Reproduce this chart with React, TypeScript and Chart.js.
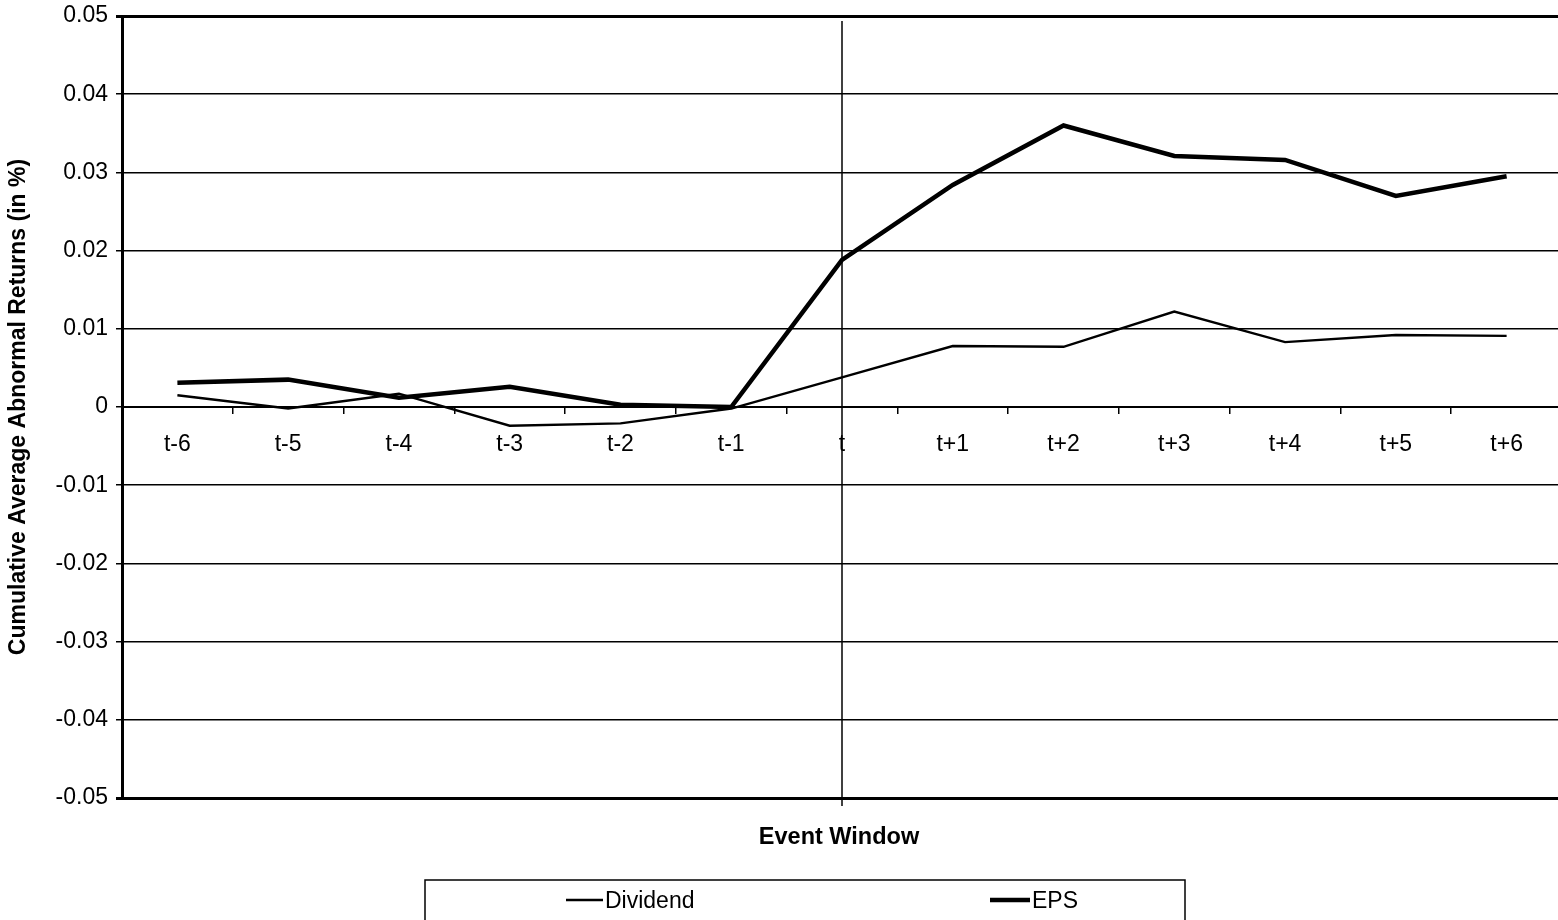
import React, { useEffect, useRef } from 'react';
import { Chart, registerables } from 'chart.js';

Chart.register(...registerables);

const categories = ['t-6', 't-5', 't-4', 't-3', 't-2', 't-1', 't', 't+1', 't+2', 't+3', 't+4', 't+5', 't+6'];
const dividend = [0.0015, -0.0002, 0.0017, -0.0024, -0.0021, -0.0002, 0.0038, 0.0078, 0.0077, 0.0122, 0.0083, 0.0092, 0.0091];
const eps = [0.0031, 0.0035, 0.0012, 0.0026, 0.0003, 0.0, 0.0188, 0.0284, 0.036, 0.0321, 0.0316, 0.027, 0.0295];
const yTicks = [0.05, 0.04, 0.03, 0.02, 0.01, 0, -0.01, -0.02, -0.03, -0.04, -0.05];
const seriesLabels = ['Dividend', 'EPS'];
const eventCategory = 't';
const xTitle = 'Event Window';
const yTitle = 'Cumulative Average Abnormal Returns (in %)';

const FONT = "'Liberation Sans', Arial, Helvetica, sans-serif";

const overlayPlugin = {
  id: 'overlay',
  beforeDatasetsDraw(chart: any) {
    const { ctx, chartArea, scales } = chart;
    const x = scales.x.getPixelForValue(categories.indexOf(eventCategory));
    ctx.save();
    ctx.strokeStyle = '#000';
    ctx.lineWidth = 1.5;
    ctx.beginPath();
    ctx.moveTo(x, chartArea.top + 5);
    ctx.lineTo(x, chartArea.bottom + 8);
    ctx.stroke();
    ctx.restore();
  },
  afterDraw(chart: any) {
    const { ctx, chartArea } = chart;
    ctx.save();
    // x axis title
    ctx.fillStyle = '#000';
    ctx.font = `bold 23.5px ${FONT}`;
    ctx.textAlign = 'center';
    ctx.textBaseline = 'middle';
    ctx.fillText(xTitle, (chartArea.left + chartArea.right) / 2 - 3, 838);

    // legend box
    ctx.strokeStyle = '#000';
    ctx.lineWidth = 1.5;
    ctx.strokeRect(425, 880, 760, 60);

    const items = [
      { label: seriesLabels[0], x0: 566, x1: 603, w: chart.data.datasets[0].borderWidth },
      { label: seriesLabels[1], x0: 990, x1: 1030, w: chart.data.datasets[1].borderWidth },
    ];
    ctx.font = `23px ${FONT}`;
    ctx.textAlign = 'left';
    items.forEach((it) => {
      ctx.lineWidth = it.w;
      ctx.beginPath();
      ctx.moveTo(it.x0, 900);
      ctx.lineTo(it.x1, 900);
      ctx.stroke();
      ctx.fillText(it.label, it.x1 + 2, 902);
    });
    ctx.restore();
  },
};

export default function App() {
  const canvasRef = useRef<HTMLCanvasElement | null>(null);

  useEffect(() => {
    if (!canvasRef.current) return;
    const chart = new Chart(canvasRef.current, {
      type: 'line',
      data: {
        labels: categories,
        datasets: [
          {
            label: seriesLabels[0],
            data: dividend,
            borderColor: '#000',
            borderWidth: 2.4,
            pointRadius: 0,
            tension: 0,
            fill: false,
          },
          {
            label: seriesLabels[1],
            data: eps,
            borderColor: '#000',
            borderWidth: 4.5,
            pointRadius: 0,
            tension: 0,
            fill: false,
          },
        ],
      },
      options: {
        responsive: false,
        animation: false,
        devicePixelRatio: 1,
        layout: { padding: { left: 0, top: 16, right: 4, bottom: 122 } },
        plugins: {
          legend: { display: false },
          tooltip: { enabled: false },
          title: { display: false },
        },
        scales: {
          x: {
            type: 'category',
            position: { y: 0 } as any,
            offset: true,
            afterFit: (scale: any) => {
              scale.paddingLeft = 0;
              scale.paddingRight = 0;
              scale.paddingTop = 0;
              scale.paddingBottom = 0;
            },
            grid: {
              display: true,
              drawOnChartArea: false,
              drawTicks: true,
              tickLength: 6,
              offset: true,
              color: '#000',
              lineWidth: 1.5,
            },
            border: { display: true, color: '#000', width: 2 },
            ticks: {
              color: '#000',
              font: { family: FONT, size: 23 },
              padding: 18,
              maxRotation: 0,
              autoSkip: false,
            },
          },
          y: {
            type: 'linear',
            min: -0.05,
            max: 0.05,
            afterBuildTicks: (scale: any) => {
              scale.ticks = yTicks.map((v) => ({ value: v }));
            },
            afterFit: (scale: any) => {
              scale.width = 122;
              scale.paddingTop = 0;
              scale.paddingBottom = 0;
            },
            grid: {
              color: '#000',
              lineWidth: (c: any) => (c.tick && Math.abs(c.tick.value) > 0.0499 ? 3 : 1.5),
              tickLength: 6,
            },
            border: { display: true, color: '#000', width: 3 },
            ticks: {
              color: '#000',
              font: { family: FONT, size: 23 },
              padding: 8,
              callback: (v: any) => {
                const n = Number(v);
                return Math.abs(n) < 1e-9 ? '0' : n.toFixed(2);
              },
            },
            title: {
              display: true,
              text: yTitle,
              color: '#000',
              font: { family: FONT, size: 23, weight: 'bold' },
              padding: { top: 5, bottom: 0 },
            },
          },
        },
      },
      plugins: [overlayPlugin],
    });
    return () => chart.destroy();
  }, []);

  return (
    <div style={{ position: 'fixed', left: 0, top: 0, width: 1558, height: 920, overflow: 'hidden', background: '#fff' }}>
      <canvas ref={canvasRef} width={1566} height={920} style={{ display: 'block' }} />
    </div>
  );
}
